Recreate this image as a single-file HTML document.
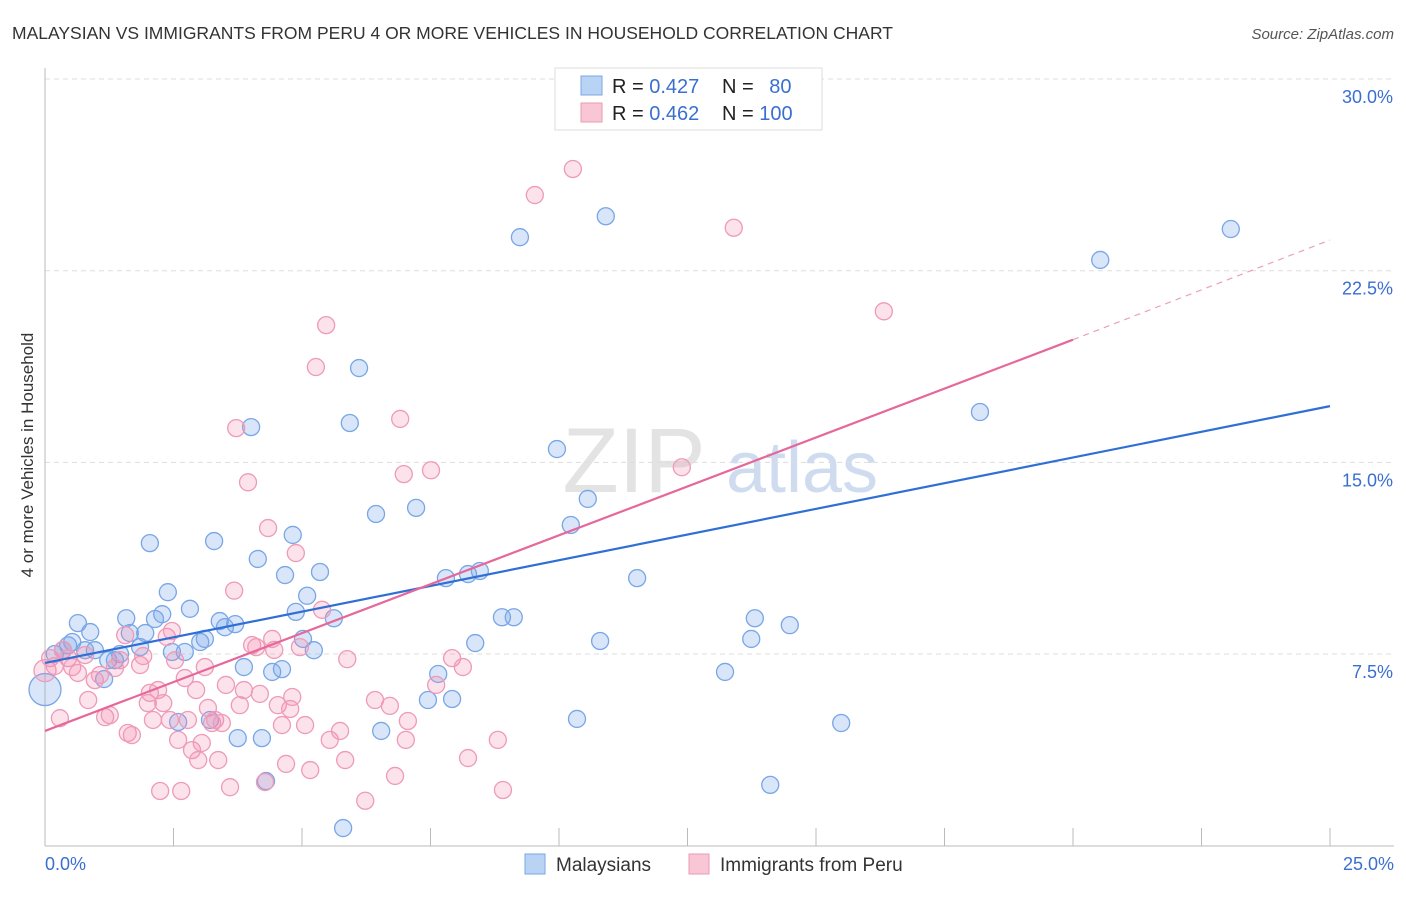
<!DOCTYPE html>
<html><head><meta charset="utf-8"><style>
body{margin:0;background:#fff;font-family:"Liberation Sans",sans-serif;}
svg text{font-family:"Liberation Sans",sans-serif;}
</style></head><body>
<svg id="chart" width="1406" height="892" xmlns="http://www.w3.org/2000/svg">
<text x="12" y="39" font-size="17.5" fill="#333">MALAYSIAN VS IMMIGRANTS FROM PERU 4 OR MORE VEHICLES IN HOUSEHOLD CORRELATION CHART</text>
<text x="1394" y="39" font-size="15" fill="#555" text-anchor="end" font-style="italic">Source: ZipAtlas.com</text>
<text transform="translate(33,455) rotate(-90)" font-size="17" fill="#333" text-anchor="middle">4 or more Vehicles in Household</text>
<g><text x="634" y="492" font-size="92" fill="#e3e3e3" font-family="Liberation Serif" text-anchor="middle">ZIP</text><text x="802" y="492" font-size="72" fill="#cfdcf0" text-anchor="middle">atlas</text></g>
<g id="grid"></g><g id="axes"></g><g id="pts"></g><g id="lines"></g>
<g>
<rect x="555" y="68" width="267" height="62" fill="#fff" stroke="#ddd"/>
<rect x="581" y="76" width="21" height="19" fill="#b9d3f5" stroke="#7aa7e6"/>
<rect x="581" y="103" width="21" height="19" fill="#f9c6d6" stroke="#ec9ab6"/>
<text x="612" y="93" font-size="20" fill="#222">R = <tspan fill="#3a6fd0">0.427</tspan></text>
<text x="722" y="93" font-size="20" fill="#222">N = <tspan fill="#3a6fd0" dx="10">80</tspan></text>
<text x="612" y="120" font-size="20" fill="#222">R = <tspan fill="#3a6fd0">0.462</tspan></text>
<text x="722" y="120" font-size="20" fill="#222">N = <tspan fill="#3a6fd0">100</tspan></text>
</g>
<g>
<rect x="525" y="854" width="20" height="20" fill="#b9d3f5" stroke="#7aa7e6"/>
<text x="556" y="871" font-size="19" fill="#333">Malaysians</text>
<rect x="689" y="854" width="20" height="20" fill="#f9c6d6" stroke="#ec9ab6"/>
<text x="720" y="871" font-size="19" fill="#333">Immigrants from Peru</text>
</g>
</svg>
<script>
const blueX=[0,0.19,0.35,0.45,0.53,0.64,0.78,0.88,0.97,1.15,1.23,1.36,1.46,1.58,1.65,1.85,1.95,2.04,2.14,2.28,2.39,2.47,2.59,2.72,2.82,3.02,3.11,3.21,3.29,3.40,3.50,3.70,3.75,3.87,4.01,4.14,4.22,4.30,4.42,4.61,4.67,4.82,4.88,5.02,5.10,5.23,5.35,5.62,5.80,5.93,6.11,6.44,6.54,7.22,7.45,7.65,7.80,7.92,8.23,8.37,8.46,8.89,9.12,9.24,9.96,10.23,10.35,10.56,10.80,10.91,11.52,13.23,13.74,13.81,14.11,14.49,15.49,18.19,20.53,23.07];
const blueY=[6.11,7.50,7.65,7.84,7.97,8.71,7.65,8.36,7.65,6.52,7.26,7.26,7.50,8.90,8.32,7.77,8.32,11.84,8.87,9.06,9.92,7.58,4.84,7.58,9.27,7.97,8.09,4.92,11.92,8.79,8.55,8.67,4.21,6.99,16.38,11.22,4.21,2.53,6.80,6.91,10.59,12.16,9.15,8.09,9.78,7.65,10.71,8.90,0.69,16.54,18.69,12.98,4.49,13.22,5.70,6.72,10.47,5.74,10.63,7.93,10.75,8.94,8.94,23.81,15.52,12.55,4.96,13.57,8.01,24.63,10.47,6.80,8.09,8.90,2.38,8.63,4.80,16.97,22.92,24.13];
const pinkX=[0,0.10,0.19,0.29,0.35,0.45,0.53,0.64,0.78,0.84,0.97,1.07,1.17,1.26,1.36,1.46,1.56,1.61,1.69,1.85,1.91,2.00,2.04,2.10,2.20,2.24,2.30,2.37,2.43,2.47,2.53,2.59,2.65,2.72,2.78,2.86,2.94,2.98,3.05,3.11,3.17,3.25,3.31,3.37,3.44,3.52,3.60,3.68,3.72,3.79,3.87,3.95,4.03,4.11,4.18,4.28,4.34,4.42,4.46,4.53,4.61,4.69,4.77,4.81,4.88,4.96,5.06,5.16,5.27,5.39,5.47,5.54,5.74,5.84,5.88,6.23,6.42,6.71,6.81,6.91,6.98,7.02,7.06,7.51,7.61,7.92,8.13,8.23,8.81,8.91,9.53,10.27,12.39,13.40,16.32];
const pinkY=[6.85,7.34,7.03,4.99,7.66,7.34,6.99,6.76,7.46,5.70,6.48,6.68,5.03,5.11,6.95,7.26,8.24,4.41,4.33,7.07,7.42,5.58,5.98,4.92,6.09,2.14,5.58,8.17,4.92,8.40,7.26,4.14,2.14,6.56,4.92,3.74,6.09,3.35,4.02,6.99,5.39,4.80,4.92,3.35,4.80,6.29,2.29,9.98,16.34,5.50,6.09,14.22,7.85,7.77,5.94,2.49,12.43,8.09,7.66,5.50,4.72,3.20,5.35,5.82,11.45,7.77,4.72,2.96,18.73,9.23,20.37,4.14,4.49,3.35,7.30,1.76,5.70,5.47,2.73,16.70,14.54,4.14,4.88,14.69,6.29,7.34,6.99,3.43,4.14,2.18,25.46,26.48,14.81,24.18,20.91];
const yTicks=[7.5,15,22.5,30];
const yTickLabels=["7.5%","15.0%","22.5%","30.0%"];
const xTicks=[0,2.5,5,7.5,10,12.5,15,17.5,20,22.5,25];
const blueTrend=[7.15,17.2];
const pinkTrend=[4.49,19.8];
const pinkTrendExt=23.7;
const X0=45,X1=1330,Y0=845.7,PXY=191.67/7.5;
const sx=v=>X0+(X1-X0)*v/25, sy=v=>Y0-v*PXY;
const NS="http://www.w3.org/2000/svg";
function mk(t,a,p){const e=document.createElementNS(NS,t);for(const k in a)e.setAttribute(k,a[k]);document.getElementById(p).appendChild(e);return e;}
yTicks.forEach((t,i)=>{
 const l=mk('line',{x1:X0,x2:1394,y1:sy(t),y2:sy(t),stroke:'#ddd','stroke-dasharray':'5,4'},'grid');
 
 
 const tx=mk('text',{x:1393,y:sy(t)+24,'font-size':18,fill:'#3a6fd0','text-anchor':'end'},'axes');
 tx.textContent=yTickLabels[i];
 
 
});
const ax=mk('line',{x1:X0,x2:X0,y1:68,y2:846,stroke:'#bbb'},'axes');


const bx=mk('line',{x1:X0,x2:1394,y1:846,y2:846,stroke:'#bbb'},'axes');


xTicks.forEach(t=>{
 const l=mk('line',{x1:sx(t),x2:sx(t),y1:828,y2:846,stroke:'#bbb'},'axes');
 
 
});
const xl0=mk('text',{x:45,y:870,'font-size':18,fill:'#3a6fd0'},'axes');xl0.textContent='0.0%';


const xl1=mk('text',{x:1394,y:870,'font-size':18,fill:'#3a6fd0','text-anchor':'end'},'axes');xl1.textContent='25.0%';


blueX.forEach((x,i)=>{
 const c=mk('circle',{cx:sx(x),cy:sy(blueY[i]),r:i===0?16:8.5,fill:'rgba(120,165,235,0.28)',stroke:'#78a6e6','stroke-width':1.3},'pts');
 
 
});
pinkX.forEach((x,i)=>{
 const c=mk('circle',{cx:sx(x),cy:sy(pinkY[i]),r:i===0?11:8.5,fill:'rgba(242,140,175,0.25)',stroke:'#ee9ab8','stroke-width':1.3},'pts');
 
 
});
const bl=mk('line',{x1:sx(0),y1:sy(blueTrend[0]),x2:sx(25),y2:sy(blueTrend[1]),stroke:'#2f6fd6','stroke-width':2.2},'lines');


const pl=mk('line',{x1:sx(0),y1:sy(pinkTrend[0]),x2:sx(20),y2:sy(pinkTrend[1]),stroke:'#e6689a','stroke-width':2.2},'lines');


const pd=mk('line',{x1:sx(20),y1:sy(pinkTrend[1]),x2:sx(25),y2:sy(pinkTrendExt),stroke:'#eaa0bc','stroke-width':1.2,'stroke-dasharray':'6,5'},'lines');


</script>
</body></html>
